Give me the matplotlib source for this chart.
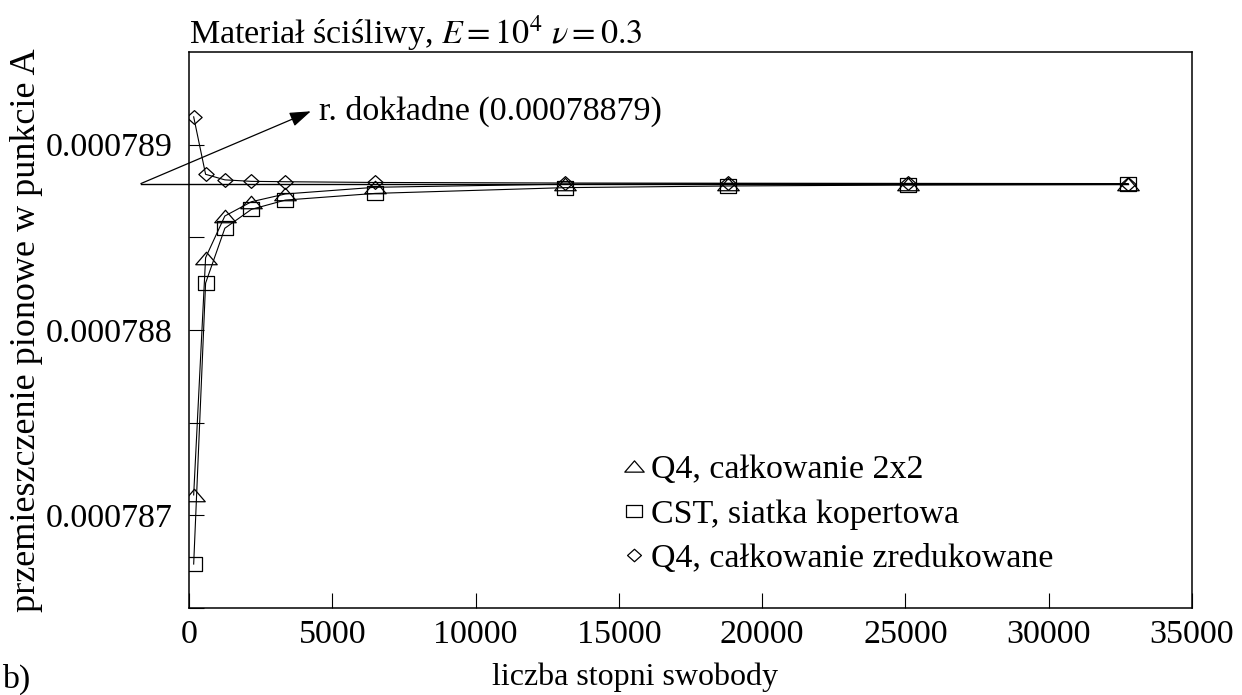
import numpy as np
import matplotlib
matplotlib.use("Agg")
import matplotlib.pyplot as plt
from matplotlib.path import Path
from matplotlib.lines import Line2D
from matplotlib.ticker import MultipleLocator, FixedLocator

plt.rcParams["font.family"] = ["Liberation Serif", "DejaVu Serif"]
plt.rcParams["mathtext.fontset"] = "stix"

# degrees of freedom for successive meshes
dof = [162, 578, 1250, 2178, 3362, 6498, 13122, 18818, 25088, 32768]

# vertical displacement at point A
q4_full = [0.00078711, 0.00078839, 0.000788615, 0.000788692, 0.000788734,
           0.000788770, 0.000788787, 0.000788790, 0.000788790, 0.000788790]
cst_cross = [0.000786737, 0.000788253, 0.000788549, 0.000788651, 0.000788701,
             0.000788737, 0.000788768, 0.000788777, 0.000788782, 0.000788785]
q4_reduced = [0.00078915, 0.00078884, 0.00078881, 0.000788802, 0.0007888,
              0.000788796, 0.000788793, 0.000788792, 0.000788791, 0.00078879]

exact = 0.00078879

labels = ["Q4, całkowanie 2x2", "CST, siatka kopertowa", "Q4, całkowanie zredukowane"]

FS = 24.5

# flattened open markers
tri = Path([(-1.0, -0.58), (1.0, -0.58), (0.0, 0.58), (-1.0, -0.58)],
           [Path.MOVETO, Path.LINETO, Path.LINETO, Path.CLOSEPOLY])
box = Path([(-1.0, -0.82), (1.0, -0.82), (1.0, 0.82), (-1.0, 0.82), (-1.0, -0.82)],
           [Path.MOVETO, Path.LINETO, Path.LINETO, Path.LINETO, Path.CLOSEPOLY])
dia = Path([(-1.0, 0.0), (0.0, -0.9), (1.0, 0.0), (0.0, 0.9), (-1.0, 0.0)],
           [Path.MOVETO, Path.LINETO, Path.LINETO, Path.LINETO, Path.CLOSEPOLY])

fig = plt.figure(figsize=(12.42, 6.95), dpi=100)
ax = fig.add_axes([0.1522, 0.1252, 0.8075, 0.8000])

common = dict(color="black", lw=0.8, mfc="none", mec="black", mew=0.9)
ax.plot(dof, q4_full, marker=tri, ms=15.5, **common)
ax.plot(dof, cst_cross, marker=box, ms=12.0, **common)
ax.plot(dof, q4_reduced, marker=dia, ms=11.0, **common)

# reference solution line, starting left of the axis
ax.plot([-1680, dof[-1]], [exact, exact], color="black", lw=1.0, clip_on=False)

ax.set_xlim(0, 35000)
ax.set_ylim(0.0007865, 0.0007895)

ax.xaxis.set_major_locator(MultipleLocator(5000))
ax.yaxis.set_major_locator(FixedLocator([0.000787, 0.000788, 0.000789]))
ax.yaxis.set_minor_locator(FixedLocator([0.0007865, 0.0007875, 0.0007885]))
ax.yaxis.set_major_formatter(plt.FuncFormatter(lambda v, p: f"{v:.6f}"))

ax.tick_params(axis="both", which="both", direction="in", length=11, width=0.8,
               labelsize=FS, top=False, right=False)
ax.tick_params(axis="x", pad=8)
ax.tick_params(axis="y", pad=12)
for s in ax.spines.values():
    s.set_linewidth(1.1)

ax.set_xlabel("liczba stopni swobody", fontsize=23)
ax.xaxis.set_label_coords(0.445, -0.098)
ax.set_ylabel("przemieszczenie pionowe w punkcie A", fontsize=26, labelpad=2)

fig.text(0.1522, 0.953, r"Materiał ściśliwy, $E = 10^4\ \nu = 0.3$", fontsize=FS,
         ha="left", va="center")

# arrow pointing to the reference line label
ax.annotate("", xy=(4250, 0.00078918), xytext=(-1680, exact),
            xycoords="data", textcoords="data", annotation_clip=False,
            arrowprops=dict(arrowstyle="-|>,head_length=1.3,head_width=0.45",
                            color="black", lw=0.9, shrinkA=0, shrinkB=0))
ax.text(4550, 0.00078918, "r. dokładne (0.00078879)", fontsize=FS,
        ha="left", va="center")

handles = [Line2D([], [], ls="none", marker=m, ms=s, mfc="none", mec="black", mew=0.9)
           for m, s in [(tri, 14), (box, 11), (dia, 10)]]
ax.legend(handles, labels, loc="lower left", bbox_to_anchor=(0.433, 0.061),
          frameon=False, fontsize=FS, handlelength=0.6, handletextpad=0.2,
          labelspacing=0.4, borderaxespad=0, borderpad=0)

fig.text(0.002, 0.0, "b)", fontsize=FS, ha="left", va="bottom")

fig.savefig("out.png", dpi=100)
